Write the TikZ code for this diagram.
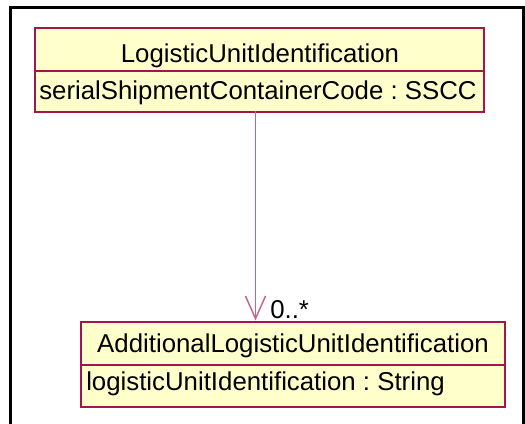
\documentclass[tikz,border=0pt]{standalone}
\usepackage{fontspec}
\setmainfont{Liberation Sans}
\usetikzlibrary{arrows.meta}
\definecolor{umlfill}{HTML}{FFFFCC}
\definecolor{umlborder}{HTML}{A3154F}
\definecolor{umlline}{HTML}{C8648A}
\begin{document}
\frenchspacing
\begin{tikzpicture}[x=0.75pt,y=-0.75pt,
  compart/.style={draw=umlborder, fill=umlfill, line width=1.2pt, rectangle, inner sep=0pt, anchor=north west},
  umltext/.style={inner sep=0pt, font=\fontsize{19.35pt}{23pt}\selectfont\frenchspacing},
  frameline/.style={line width=2.25pt, black},
  assoc/.style={draw=umlline, line width=1.1pt, -{Straight Barb[length=17pt,width=15pt,line width=1.1pt]}}]
\useasboundingbox (0,0) rectangle (525,424);
\clip (0,0) rectangle (525,424);
\coordinate (fbl) at (10,440);
\coordinate (ftl) at (10,7.7);
\coordinate (ftr) at (523,7.7);
\coordinate (fbr) at (523,440);
\draw[frameline] (fbl) -- (ftl) -- (ftr) -- (fbr);
% top class
\node[compart, minimum width=336.75pt, minimum height=32.25pt] (c1h) at (34,27) {};
\node[compart, minimum width=336.75pt, minimum height=30.75pt] (c1a) at (34,70) {};
\node[umltext, anchor=base] (c1t) at (260,63) {LogisticUnitIdentification};
\node[umltext, anchor=base west] (c1x) at (39,100) {serialShipmentContainerCode : SSCC};
% bottom class
\node[compart, minimum width=318pt, minimum height=32.25pt] (c2h) at (80,321) {};
\node[compart, minimum width=318pt, minimum height=31.5pt] (c2a) at (80,364) {};
\node[umltext, anchor=base] (c2t) at (293,352) {AdditionalLogisticUnitIdentification};
\node[umltext, anchor=base west] (c2x) at (86,390) {logisticUnitIdentification : String};
% association
\coordinate (s) at (255.5,111);
\coordinate (e) at (255.5,320.5);
\draw[assoc] (s) -- (e);
\node[umltext, anchor=base west] (m) at (270,318) {0..*};
\end{tikzpicture}
\end{document}
